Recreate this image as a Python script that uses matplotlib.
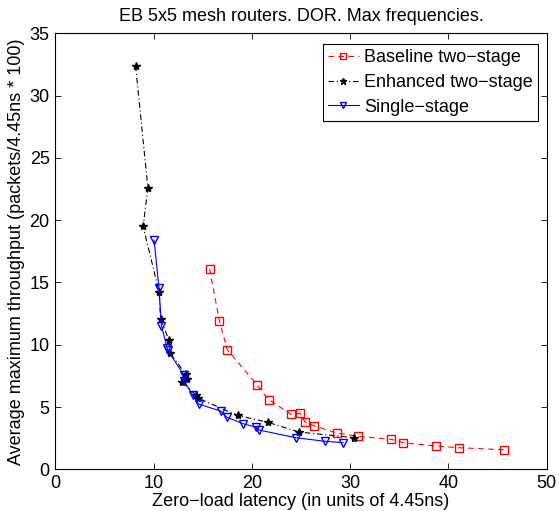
import matplotlib
matplotlib.use("Agg")
import matplotlib.pyplot as plt

plt.rcParams['font.family'] = ['Liberation Sans', 'DejaVu Sans']

# Baseline two-stage
base_x = [15.7, 16.7, 17.5, 20.5, 21.7, 24.0, 24.9, 25.4, 26.3, 28.7, 30.8, 34.2, 35.4, 38.7, 41.1, 45.6]
base_y = [16.1, 11.9, 9.6, 6.8, 5.6, 4.4, 4.5, 3.8, 3.5, 2.9, 2.65, 2.4, 2.13, 1.87, 1.73, 1.57]

# Enhanced two-stage
enh_x = [8.17, 9.42, 8.94, 10.57, 10.71, 11.57, 11.7, 13.25, 13.42, 12.91, 14.3, 14.5, 18.55, 21.65, 24.8, 30.36]
enh_y = [32.4, 22.6, 19.5, 14.2, 12.07, 10.35, 9.3, 7.65, 7.25, 7.03, 5.96, 5.72, 4.32, 3.77, 2.99, 2.54]

# Single-stage
sgl_x = [10.05, 10.55, 10.8, 11.38, 11.45, 13.05, 13.1, 14.0, 14.6, 16.85, 17.45, 19.1, 20.47, 20.73, 24.46, 27.41, 29.27]
sgl_y = [18.4, 14.55, 11.5, 9.75, 9.55, 7.6, 7.08, 5.94, 5.23, 4.67, 4.18, 3.66, 3.37, 3.15, 2.54, 2.25, 2.14]

labels = ['Baseline two\u2212stage', 'Enhanced two\u2212stage', 'Single\u2212stage']
xticks = [0, 10, 20, 30, 40, 50]
yticks = [0, 5, 10, 15, 20, 25, 30, 35]

fig = plt.figure(figsize=(5.59, 5.11), dpi=100)
ax = fig.add_axes([0.0989, 0.0816, 0.8792, 0.8532])

ax.plot(base_x, base_y, linestyle=(0, (5, 4)), color='red', marker='s', markersize=5.5,
        markerfacecolor='none', markeredgecolor='red', linewidth=0.8, label=labels[0])
ax.plot(enh_x, enh_y, linestyle=(0, (5, 2.5, 1, 2.5)), color='black', marker='*', markersize=6,
        markerfacecolor='black', markeredgecolor='black', linewidth=0.8, label=labels[1])
ax.plot(sgl_x, sgl_y, linestyle='-', color='blue', marker='v', markersize=6,
        markerfacecolor='none', markeredgecolor='blue', linewidth=0.8, label=labels[2])

ax.set_xlim(0, 50)
ax.set_ylim(0, 35)
ax.set_xticks(xticks)
ax.set_yticks(yticks)
ax.tick_params(direction='in', top=True, right=True, length=4, width=0.6, labelsize=13, pad=4)
for s in ax.spines.values():
    s.set_linewidth(0.8)

ax.set_title('EB 5x5 mesh routers. DOR. Max frequencies.', fontsize=13, pad=9)
ax.set_xlabel('Zero\u2212load latency (in units of 4.45ns)', fontsize=13, labelpad=1)
ax.set_ylabel('Average maximum throughput (packets/4.45ns * 100)', fontsize=13, labelpad=3)

leg = ax.legend(loc='upper right', bbox_to_anchor=(0.983, 0.9755), borderaxespad=0,
                fontsize=13, numpoints=1, fancybox=False, framealpha=1,
                edgecolor='black', labelspacing=0.42, handlelength=1.7,
                handletextpad=0.3, borderpad=0.3, markerscale=0.8)
leg.get_frame().set_linewidth(0.8)

fig.savefig('out.png', dpi=100)
